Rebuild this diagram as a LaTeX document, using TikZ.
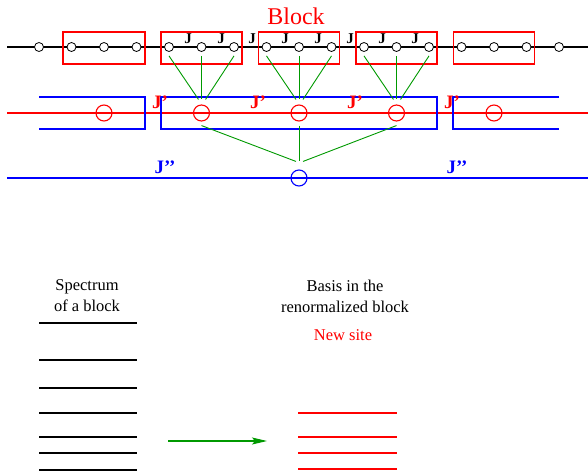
\documentclass[tikz,border=0pt]{standalone}
\usepackage{fontspec}
\setmainfont{Liberation Serif}
\usetikzlibrary{arrows.meta}

\begin{document}
\begin{tikzpicture}[x=1pt, y=-1pt,
  chain/.style={line width=1.6pt, draw=black},
  site/.style={circle, draw=black, fill=white, line width=0.8pt, inner sep=0pt, minimum size=9pt},
  blockbox/.style={draw=red, line width=1.1pt},
  coupling/.style={font=\fontsize{15}{18}\selectfont\bfseries, inner sep=0pt},
  newchain/.style={draw=red, line width=1.1pt},
  newsite/.style={circle, draw=red, line width=1.1pt, inner sep=0pt, minimum size=16pt},
  superbox/.style={draw=blue, line width=1.1pt},
  newcoupling/.style={text=red, font=\fontsize{19}{22}\selectfont\bfseries, inner sep=0pt},
  superchain/.style={draw=blue, line width=1.1pt},
  bigsite/.style={circle, draw=blue, line width=1.1pt, inner sep=0pt, minimum size=16pt},
  supercoupling/.style={text=blue, font=\fontsize{19}{22}\selectfont\bfseries, inner sep=0pt},
  link/.style={draw=green!60!black, line width=0.9pt},
  caption/.style={align=center, font=\fontsize{16.5}{21}\selectfont, inner sep=0pt},
  level/.style={line width=1.6pt},
  flow/.style={draw=green!60!black, line width=1.1pt, -{Stealth[length=15pt, width=7pt, inset=3pt]}}]
\useasboundingbox (0,0) rectangle (588,472);
% Title
\node[text=red, font=\fontsize{24}{28}\selectfont, inner sep=0pt] (title) at (296,16) {Block};
% Renormalized chain
\draw[newchain] (7,113) -- (588,113);
\draw[superbox] (39,97) -- (145,97) -- (145,129) -- (39,129);
\draw[superbox] (161,97) rectangle (437,129);
\draw[superbox] (559,97) -- (453,97) -- (453,129) -- (559,129);
\node[newsite] (r1) at (104,113) {};
\node[newsite] (r2) at (201.5,113) {};
\node[newsite] (r3) at (299,113) {};
\node[newsite] (r4) at (396.5,113) {};
\node[newsite] (r5) at (494,113) {};
\node[newcoupling] (jp1) at (160,102) {J'};
\node[newcoupling] (jp2) at (258,102) {J'};
\node[newcoupling] (jp3) at (355,102) {J'};
\node[newcoupling] (jp4) at (452,102) {J'};
% Original chain
\draw[chain] (7,47) -- (588,47);
\draw[blockbox] (63,32) rectangle (145,64);
\draw[blockbox] (161,32) rectangle (242,64);
\draw[blockbox] (258.5,32) rectangle (339.5,64);
\draw[blockbox] (356,32) rectangle (437,64);
\draw[blockbox] (453.5,32) rectangle (534.5,64);
\foreach \i in {1,...,17}
  \node[site] (s\i) at ({39+32.5*(\i-1)},47) {};
\foreach \x [count=\k] in {188,221,252,285,318,350,382,415}
  \node[coupling] (j\k) at (\x,39) {J};
% Blocks become sites
\foreach \a/\b/\c/\r in {5/6/7/2, 8/9/10/3, 11/12/13/4} {
  \draw[link] ([yshift=-4pt]s\a.south) -- ([xshift=-3pt, yshift=5pt]r\r.north);
  \draw[link] ([yshift=-4pt]s\b.south) -- ([yshift=5pt]r\r.north);
  \draw[link] ([yshift=-4pt]s\c.south) -- ([xshift=4pt, yshift=5pt]r\r.north);
}
% Second step
\draw[superchain] (7,178) -- (588,178);
\node[bigsite] (c) at (299,178) {};
\draw[link] ([yshift=-4pt]r2.south) -- ([xshift=-3pt, yshift=8pt]c.north);
\draw[link] ([yshift=-4pt]r3.south) -- ([yshift=8pt]c.north);
\draw[link] ([yshift=-4pt]r4.south) -- ([xshift=4pt, yshift=8pt]c.north);
\node[supercoupling] (jpp1) at (165,167) {J'{}'};
\node[supercoupling] (jpp2) at (457,167) {J'{}'};
% Spectrum of a block
\node[caption] (spec) at (87,296) {Spectrum\\of a block};
\foreach \y in {323,360,388,413,437,453,470}
  \draw[level] (39,\y) -- (137,\y);
% Kept states
\node[caption] (basis) at (345,296) {Basis in the\\renormalized block};
\node[caption, text=red] (newsite) at (343,335) {New site};
\foreach \y in {413,437,453,469}
  \draw[level, draw=red] (298,\y) -- (397,\y);
\coordinate (from) at (168,441);
\coordinate (to) at (267,441);
\draw[flow] (from) -- (to);
\end{tikzpicture}
\end{document}
